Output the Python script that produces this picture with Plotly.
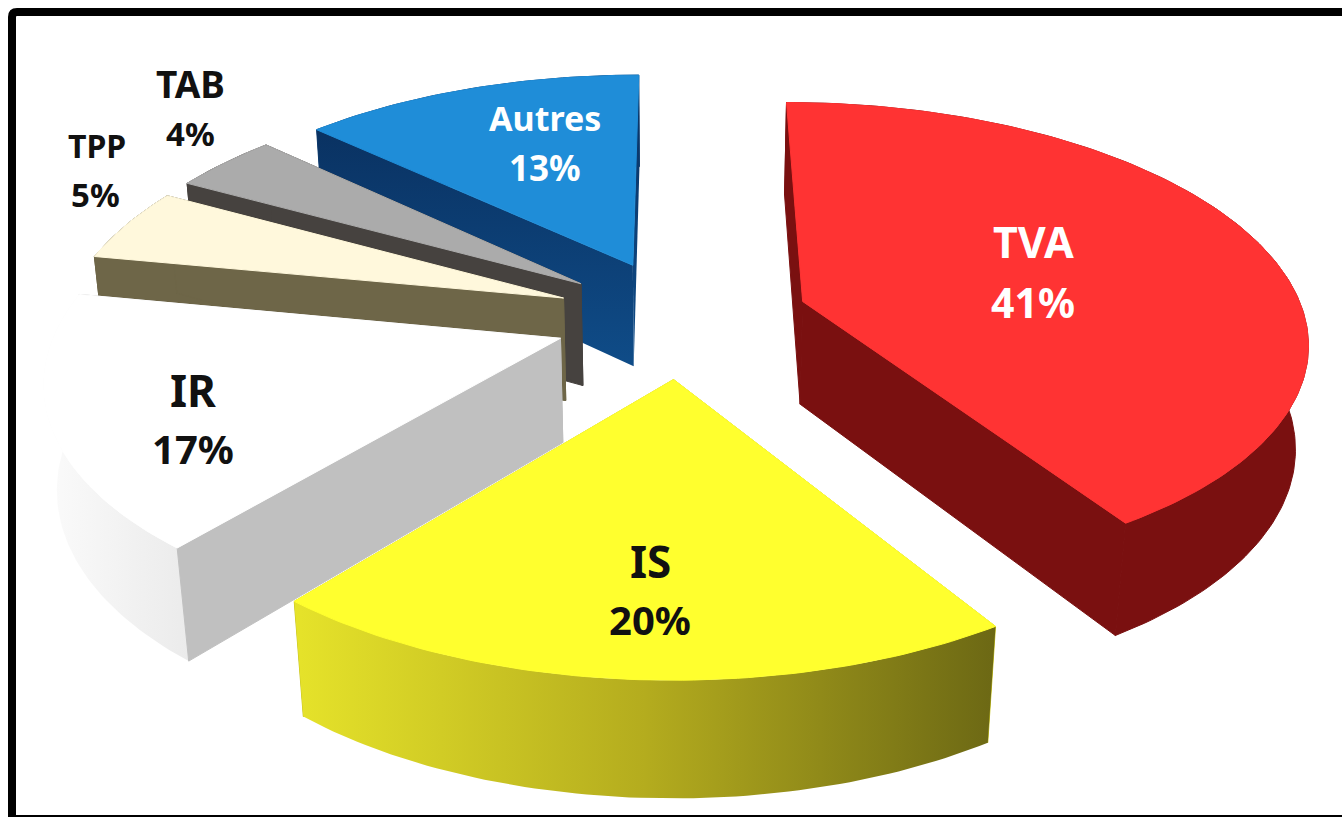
import numpy as np
import plotly.graph_objects as go

# Tax revenue breakdown
names = ["TVA", "IS", "IR", "TPP", "TAB", "Autres"]
shares = [41, 20, 17, 5, 4, 13]

# Face colours per slice
top_colors = ["#FF3333", "#FFFF2E", "#FFFFFF", "#FFF8DC", "#ABABAB", "#1F8DD8"]
side_colors = ["#7A1010", "#C8C420", "#C0C0C0", "#6E6648", "#46423F", "#0B3A6E"]
rim_gradients = {
    "IS": [[0, "#E6E32A"], [0.5, "#B4AC1E"], [1, "#6C6814"]],
    "IR": [[0, "#FBFBFB"], [1, "#EBEBEB"]],
}

# Label placement and size: name line (x, y, size), value line (x, y, size)
label_layout = {
    "TVA": ((1033, 241, 43), (1033, 302, 41)),
    "IS": ((650, 561, 44), (650, 619, 40)),
    "IR": ((193, 390, 44), (193, 448, 40)),
    "TPP": ((97, 145, 32), (95, 194, 33)),
    "TAB": ((190, 83, 37), (190, 133, 33)),
    "Autres": ((545, 118, 34), (545, 167, 35)),
}
label_colors = {"TVA": "#FFFFFF", "Autres": "#FFFFFF"}

# Camera matrix of the tilted view and the slice explosion, in pie radii
CAMERA = np.array([
    [500.91063, 103.530124, -13.938859, 681.74504],
    [-0.203567, -185.45323, -112.07248, 317.88697],
    [-0.00089, 0.152393, -0.020619, 1.0],
])
EXPLODE = 0.253786
ARC_STEPS_PER_TURN = 360

total = sum(shares)
edges = np.cumsum([0] + shares) / total * 2 * np.pi
mids = (edges[:-1] + edges[1:]) / 2


def project(X, Y, Z):
    X, Y = np.broadcast_arrays(X, Y)
    pts = np.stack([X, Y, np.full(X.shape, Z), np.ones(X.shape)])
    u, v, w = CAMERA @ pts
    return u / w, v / w


def slice_outline(i, level):
    """Apex and arc of slice i at height level (0 top, -1 bottom)."""
    n = max(4, int(ARC_STEPS_PER_TURN * shares[i] / total))
    a = np.linspace(edges[i], edges[i + 1], n)
    ox, oy = EXPLODE * np.sin(mids[i]), EXPLODE * np.cos(mids[i])
    ax, ay = project(np.array([ox]), np.array([oy]), level)
    rx, ry = project(ox + np.sin(a), oy + np.cos(a), level)
    return ax, ay, rx, ry


def polygon(x, y, color=None, gradient=None, orientation="horizontal"):
    kw = dict(
        x=x, y=y, mode="lines", fill="toself",
        hoverinfo="skip", showlegend=False,
    )
    if gradient is not None:
        span = x if orientation == "horizontal" else y
        kw["line"] = dict(width=0)
        kw["fillgradient"] = dict(
            type=orientation, colorscale=gradient,
            start=float(np.min(span)), stop=float(np.max(span)),
        )
    else:
        kw["line"] = dict(width=1, color=color)
        kw["fillcolor"] = color
    return go.Scatter(**kw)


fig = go.Figure()

# Paint back to front: each slice covers whatever sits behind it
for i in [5, 4, 3, 2, 0, 1]:
    ax, ay, rx, ry = slice_outline(i, 0)
    bx, by, sx, sy = slice_outline(i, -1)
    name = names[i]

    rim = polygon(
        np.r_[rx, sx[::-1], rx[0]], np.r_[ry, sy[::-1], ry[0]],
        color=side_colors[i], gradient=rim_gradients.get(name),
    )
    faces = []
    for k in (0, -1):
        fx = np.r_[ax, rx[k], sx[k], bx, ax]
        fy = np.r_[ay, ry[k], sy[k], by, ay]
        if name == "Autres":
            faces.append(polygon(
                fx, fy,
                gradient=[[0, "#0A3262"], [1, "#0F4C88"]],
                orientation="vertical",
            ))
        else:
            faces.append(polygon(fx, fy, color=side_colors[i]))

    # A slice pointing at the viewer hides its cut faces behind its rim
    toward_viewer = np.cos(mids[i]) < 0 and np.sin(mids[i]) > -0.5
    ordered = faces + [rim] if toward_viewer else [rim] + faces
    fig.add_traces(ordered)
    fig.add_trace(polygon(
        np.r_[ax, rx, ax], np.r_[ay, ry, ay], color=top_colors[i],
    ))

for name, share in zip(names, shares):
    lines = label_layout[name]
    for text, (x, y, size) in zip((name, f"{share}%"), lines):
        fig.add_annotation(
            x=x, y=y, text=f"<b>{text}</b>", showarrow=False,
            xanchor="center", yanchor="middle",
            font=dict(family="Noto Sans", size=size,
                      color=label_colors.get(name, "#111111")),
        )

# Frame along the top, left and bottom edges
fig.add_shape(
    type="path",
    path="M 1360,12 L 17,12 Q 12,12 12,17 L 12,819 L 1360,819",
    line=dict(color="#000000", width=8), layer="above",
)

fig.update_layout(
    width=1342, height=817,
    margin=dict(l=0, r=0, t=0, b=0),
    paper_bgcolor="#FFFFFF", plot_bgcolor="#FFFFFF",
    xaxis=dict(range=[0, 1342], visible=False, fixedrange=True),
    yaxis=dict(range=[817, 0], visible=False, fixedrange=True),
)

fig.write_html("out.html", config={"displayModeBar": False})
